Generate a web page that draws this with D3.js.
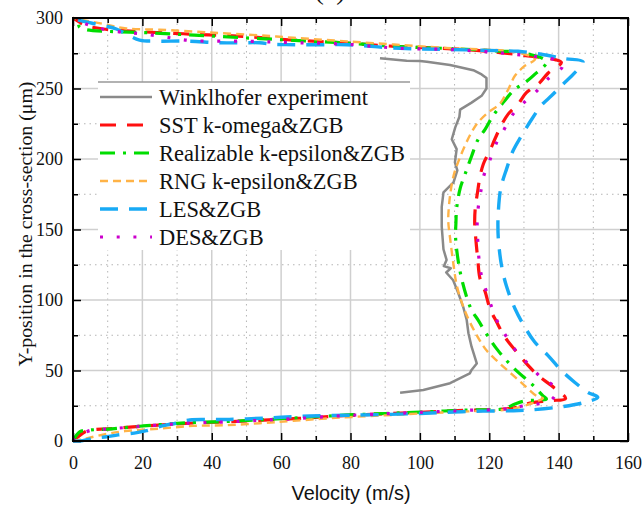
<!DOCTYPE html>
<html><head><meta charset="utf-8">
<script src="https://cdn.jsdelivr.net/npm/d3@7"></script>
<style>body{margin:0;background:#fff}svg{display:block}</style>
</head><body><svg id="c" width="644" height="506"></svg>
<script>
const xTicks=[0,20,40,60,80,100,120,140,160];
const yTicks=[0,50,100,150,200,250,300];
const xMinor=[10,30,50,70,90,110,130,150];
const yMinor=[25,75,125,175,225,275];
const seriesNames=["Winklhofer experiment","SST k-omega&ZGB","Realizable k-epsilon&ZGB","RNG k-epsilon&ZGB","LES&ZGB","DES&ZGB"];

// [velocity m/s, y-position µm]
const experiment=[[88.5,271.4],[96.2,269.7],[100,269.5],[102,269],[108.7,266.7],[115.4,263],[117.8,260],[119.2,257.5],[119.2,250],[117.8,244.8],[114.9,240],[111.6,235],[111.4,230],[110.2,222.4],[109.2,214],[110.6,207],[110.1,197.6],[110.8,192],[109.7,183.5],[106.8,176.4],[106.3,166],[106.3,152],[106.8,136],[107.7,128.4],[106.9,124],[108.9,122.5],[107.6,119.5],[109.6,114],[111.1,104.7],[112.5,95],[113.5,85.8],[114,76.4],[114.9,66.9],[116.4,55],[114.9,50.4],[114.4,48],[108.7,41],[101,36.2],[94.3,34.3]];
const sst=[[0,0],[3.5,6.6],[5.8,8.0],[10,8.6],[20,10.5],[35,12.8],[45,13.7],[55,14.8],[65,16],[78,18],[90,19.3],[100,20.3],[114,21.8],[124,22.6],[128,24],[132,27],[137.5,28.6],[142,30.2],[137.9,39.3],[134.1,46.4],[131.2,53.6],[128.3,62],[124.5,73.8],[122.1,84.5],[120.2,94],[118.8,106],[117.3,115.5],[116.7,128.6],[116.1,144],[115.8,155],[116,166],[116.6,176],[117.3,187],[118.3,196.5],[120.2,206],[121.6,214],[123.5,224],[125.5,232],[128.3,239],[130.7,247],[134.5,254],[137,261],[140.8,268.4],[139,270.5],[130,273.5],[123,275.5],[112,277.8],[94,279.7],[78,282.4],[63.5,284.3],[50,286.8],[34.6,288.5],[20.2,290.2],[8.7,292.2],[3.8,294.6],[1.9,297],[0,300]];
const realizable=[[0,0],[2,6.6],[5,7.8],[10,8.4],[20.2,10.7],[34.6,13.1],[44.2,13.8],[53.8,15],[63.5,16.2],[77.9,18.3],[90,19.5],[100,20.5],[114,22],[124,22.8],[127.4,26.2],[130,28.3],[136.5,29.8],[135.5,32],[132.2,40.5],[128.3,48.8],[125,57],[122.1,65.5],[119.2,76],[116.8,85.7],[114.9,92.9],[113.5,102],[112,115.5],[111.1,127],[110.3,144],[110.4,155],[110.6,165],[111.6,179],[113,189],[114.9,202],[116.8,214],[118.8,221],[121.1,230.7],[124,240],[127.4,249.5],[130.2,254],[133.1,260],[136.5,269],[129.3,275.5],[123,276.5],[112,278],[94.3,279.7],[77.9,282.4],[68.3,283.6],[58.7,284.8],[49,286],[39.4,287.3],[29.8,288.5],[20.2,289.7],[10,290.5],[3.8,291.7],[1.9,293.4],[1.4,297],[0,300]];
const rng=[[0,0],[3.9,1.9],[9.7,5],[15,7],[25,8.8],[34.6,10.7],[44,11.2],[53.8,12.6],[63.5,14.3],[77.9,16.7],[90,18.2],[100,19.5],[114,21],[124,22],[128,23.5],[133.6,28],[135.5,30.3],[133.6,32],[130.2,39.3],[126.4,47.6],[122.6,56],[119.2,64.3],[116.4,75],[113.9,87],[112,98.8],[110.6,110.7],[109.7,125],[108.7,144],[108.2,155],[108.2,160],[108.7,174],[109.7,188],[111,197.6],[113,209.5],[114.9,219],[116.8,226],[119.7,233],[123,239],[125.5,249.5],[127.4,259],[130.2,266],[133.2,270.8],[127.4,276],[117.3,277.8],[111.6,278.2],[94.3,280.9],[77.9,283.6],[63.5,286],[53.8,287.7],[39.4,289.7],[25,291.7],[15.4,292.6],[8.7,295.8],[0,300]];
const les=[[0,0],[2,0],[5.9,1.9],[9.7,3],[13,4.3],[18.4,5.9],[21.2,7.3],[26,10.9],[29.4,12.5],[33.7,14.9],[40,15.2],[45,15.3],[55,16.2],[60,16.8],[68.3,17.7],[80,18.3],[100,19.5],[114,21],[127,21.5],[132.7,22.2],[140.9,24.3],[147.5,27.4],[151.3,31],[148.4,34.5],[144.6,41.7],[140.8,50],[136.9,60.7],[133.1,70.2],[130.2,81],[127.4,94],[125,109.5],[123.5,125],[122.6,144],[122.5,155],[122.6,162],[123.3,179],[125,193],[126.9,206],[129.3,216.5],[132.2,228],[135,238],[138,245],[140.8,252],[144.6,261],[147,269],[141.7,271.2],[135,274.3],[128.3,276.4],[123,276.8],[106.7,277.8],[94.3,278.5],[79,281],[72,281],[61.5,281.1],[57.7,281.3],[53.8,282.4],[48,282.4],[42.3,282.4],[32.7,283.6],[24,283.6],[19.2,284.3],[15.4,288.5],[12.5,292.2],[8.7,294.6],[1.9,298.3],[0,300]];
const des=[[0,0],[2,4],[5,7.5],[10,8.5],[20,10.5],[35,12.8],[45,13.6],[55,14.8],[65,16],[78,18],[90,19.3],[100,20.3],[114,21.8],[124,22.6],[130,25],[137.5,28.5],[139.2,34],[138.5,39],[135,45],[131.7,53.6],[128.3,62],[125,73.8],[122.5,84],[120.9,93.6],[119.2,106],[117.8,116.7],[117,130],[116.7,141.7],[116.5,152],[116.8,165],[117.5,176],[118.4,188],[120,198],[122,211],[124.3,221],[126.9,232],[130,240],[133.6,248],[137,257],[141,265],[141,268],[139,270.5],[130,273.5],[122,275.5],[110,277.5],[94.3,278.5],[78,281.5],[63.5,282.5],[50,283.5],[34,284],[28,286],[19,289],[15,289.7],[8.7,292],[4.5,295],[1,298.5],[0,300]];

const svg=d3.select("#c");
const L=73,R=628,T=18,B=441;
const x=d3.scaleLinear().domain([0,160]).range([L,R]);
const y=d3.scaleLinear().domain([0,300]).range([B,T]);
const font="'Liberation Serif','Times New Roman',serif";

function fit(sel,target){const n=sel.node();const len=n.getComputedTextLength();
  const fs=parseFloat(sel.attr("font-size"));sel.attr("font-size",(fs*target/len).toFixed(2));}

// grid
const g=svg.append("g");
g.selectAll(".gxm").data(xMinor).join("line").attr("x1",d=>x(d)).attr("x2",d=>x(d)).attr("y1",T).attr("y2",B)
 .attr("stroke","#b5b5b5").attr("stroke-width",1).attr("stroke-dasharray","1.5,4");
g.selectAll(".gym").data(yMinor).join("line").attr("y1",d=>y(d)).attr("y2",d=>y(d)).attr("x1",L).attr("x2",R)
 .attr("stroke","#b5b5b5").attr("stroke-width",1).attr("stroke-dasharray","1.5,4");
g.selectAll(".gx").data(xTicks.slice(1,-1)).join("line").attr("x1",d=>x(d)).attr("x2",d=>x(d)).attr("y1",T).attr("y2",B)
 .attr("stroke","#cfcfcf").attr("stroke-width",1.5);
g.selectAll(".gy").data(yTicks.slice(1,-1)).join("line").attr("y1",d=>y(d)).attr("y2",d=>y(d)).attr("x1",L).attr("x2",R)
 .attr("stroke","#cfcfcf").attr("stroke-width",1.5);

// legend background
const lg=svg.append("g");
lg.append("rect").attr("x",98).attr("y",82).attr("width",312).attr("height",168).attr("fill","#fff");
lg.append("line").attr("x1",98).attr("x2",410).attr("y1",82).attr("y2",82).attr("stroke","#999").attr("stroke-width",1.5);

const styles=[
 {data:experiment,color:"#8a8a8a",w:2.5,dash:null,curve:d3.curveLinear},
 {data:sst,color:"#ff1010",w:3.2,dash:"16,11",curve:d3.curveCatmullRom.alpha(0.5)},
 {data:realizable,color:"#00dd00",w:3.2,dash:"15,8,3,8",curve:d3.curveCatmullRom.alpha(0.5)},
 {data:rng,color:"#ffb347",w:2.4,dash:"8,5",curve:d3.curveCatmullRom.alpha(0.5)},
 {data:les,color:"#18aaf5",w:3.4,dash:"18,11",curve:d3.curveCatmullRom.alpha(0.5)},
 {data:des,color:"#cc00cc",w:3.2,dash:"3,13.7",curve:d3.curveCatmullRom.alpha(0.5)}
];
const pg=svg.append("g");
styles.forEach(s=>{
  const line=d3.line().x(d=>x(d[0])).y(d=>y(d[1])).curve(s.curve);
  pg.append("path").attr("d",line(s.data)).attr("fill","none").attr("stroke",s.color)
    .attr("stroke-width",s.w).attr("stroke-dasharray",s.dash).attr("stroke-linejoin","round");
});

// legend entries
let legendFs=22;
styles.forEach((s,i)=>{
  const yy=97+i*28;
  lg.append("line").attr("x1",100).attr("x2",152).attr("y1",yy).attr("y2",yy)
    .attr("stroke",s.color).attr("stroke-width",s.w).attr("stroke-dasharray",s.dash);
  const t=lg.append("text").attr("class","lt").attr("x",159).attr("y",yy).attr("dy","0.35em").text(seriesNames[i])
    .attr("font-family",font).attr("font-size",22).attr("fill","#111");
  if(i===0){fit(t,209);legendFs=t.attr("font-size");}
});
lg.selectAll(".lt").attr("font-size",legendFs);

// axes
function style(sel){sel.select(".domain").remove();sel.selectAll("line").attr("stroke","#000").attr("stroke-width",1.5);
 sel.selectAll("text").attr("font-family",font).attr("font-size",18).attr("fill","#111");}
svg.append("g").attr("transform",`translate(0,${B})`).call(d3.axisBottom(x).tickValues(xTicks).tickSize(-8).tickPadding(15)).call(style);
svg.append("g").attr("transform",`translate(0,${B})`).call(d3.axisBottom(x).tickValues(xMinor).tickSize(-5).tickFormat("")).call(style);
svg.append("g").attr("transform",`translate(${L},0)`).call(d3.axisLeft(y).tickValues(yTicks).tickSize(-8).tickPadding(10)).call(style);
svg.append("g").attr("transform",`translate(${L},0)`).call(d3.axisLeft(y).tickValues(yMinor).tickSize(-5).tickFormat("")).call(style);
svg.append("g").attr("transform",`translate(0,${T})`).call(d3.axisTop(x).tickValues(xTicks).tickSize(-8).tickFormat("")).call(style);
svg.append("g").attr("transform",`translate(0,${T})`).call(d3.axisTop(x).tickValues(xMinor).tickSize(-5).tickFormat("")).call(style);
svg.append("g").attr("transform",`translate(${R},0)`).call(d3.axisRight(y).tickValues(yTicks).tickSize(-8).tickFormat("")).call(style);
svg.append("g").attr("transform",`translate(${R},0)`).call(d3.axisRight(y).tickValues(yMinor).tickSize(-5).tickFormat("")).call(style);

svg.append("rect").attr("x",L).attr("y",T).attr("width",R-L).attr("height",B-T).attr("fill","none").attr("stroke","#000").attr("stroke-width",2);

// titles
const xt=svg.append("text").attr("x",351).attr("y",500).attr("text-anchor","middle").text("Velocity (m/s)")
 .attr("font-family","'Liberation Sans',Arial,sans-serif").attr("font-size",19.5).attr("fill","#111");
fit(xt,119);
const yt=svg.append("text").attr("transform","translate(32,224) rotate(-90)").attr("text-anchor","middle")
 .text("Y-position in the cross-section (μm)").attr("font-family",font).attr("font-size",20).attr("fill","#111");
fit(yt,285);
svg.append("text").attr("x",330).attr("y",-1).attr("text-anchor","middle").text("(a)")
 .attr("font-family",font).attr("font-size",28).attr("fill","#111");
</script></body></html>
